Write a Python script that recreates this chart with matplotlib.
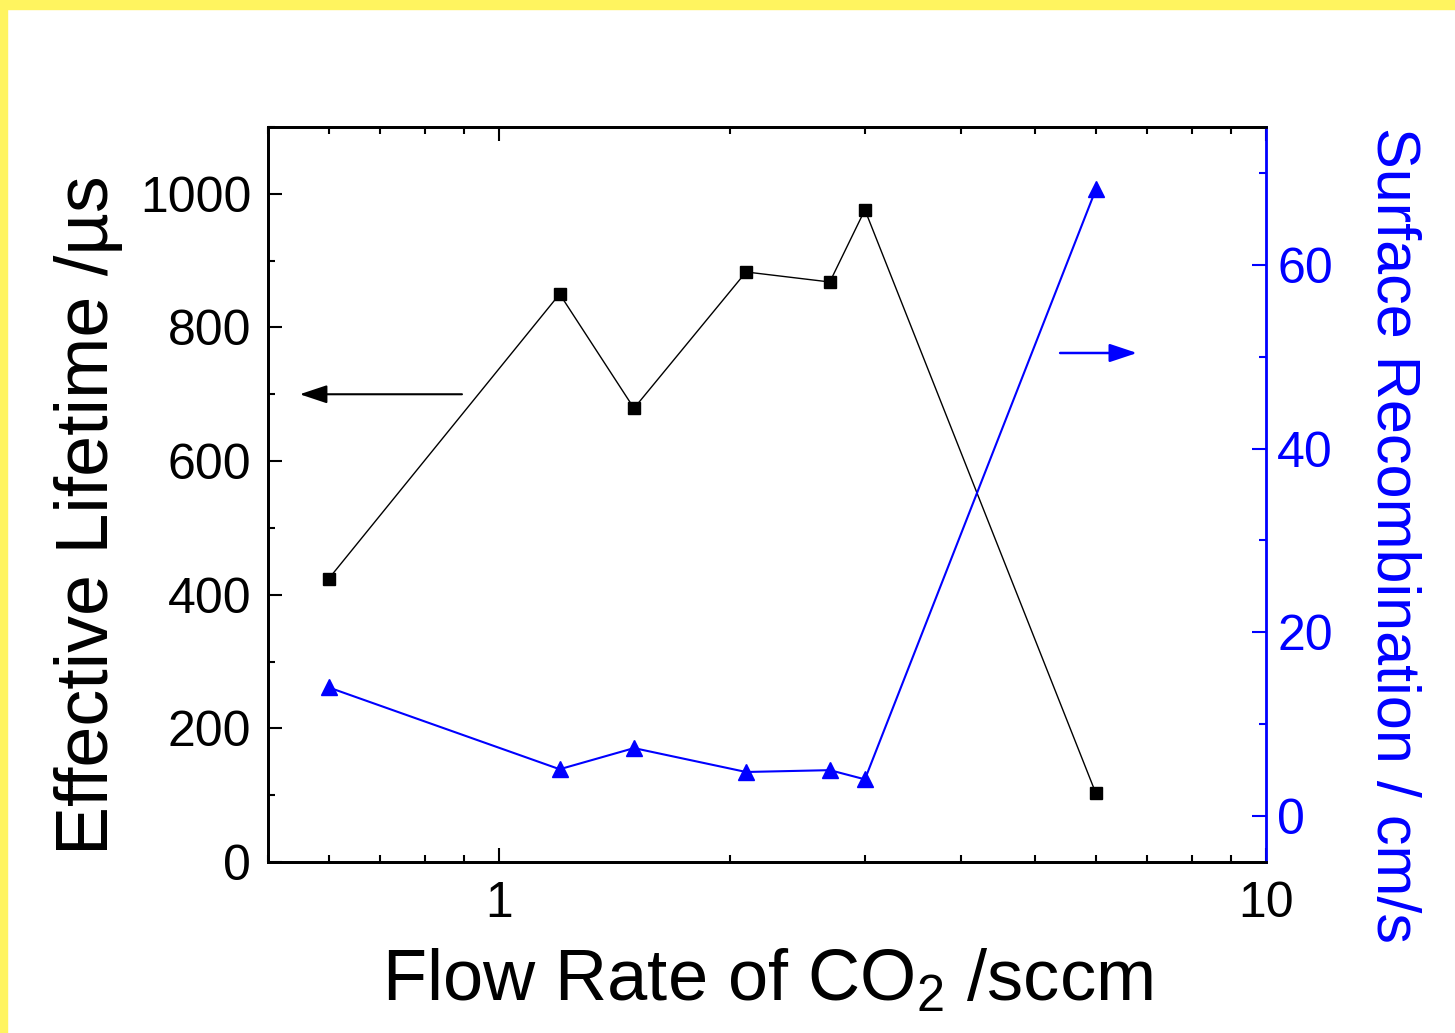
import matplotlib
matplotlib.use("Agg")
import matplotlib.pyplot as plt
from matplotlib.patches import Rectangle
from matplotlib.ticker import LogLocator, NullFormatter, MultipleLocator, FixedLocator

plt.rcParams["font.family"] = ["Liberation Sans", "DejaVu Sans"]
plt.rcParams["mathtext.fontset"] = "custom"
plt.rcParams["mathtext.rm"] = "Liberation Sans"
plt.rcParams["mathtext.it"] = "Liberation Sans"

# data
flow = [0.6, 1.2, 1.5, 2.1, 2.7, 3.0, 6.0]
lifetime = [424, 850, 679, 883, 868, 976, 103]
srv = [14.0, 5.1, 7.4, 4.8, 5.0, 4.0, 68.2]

BLUE = "#0000ff"

fig = plt.figure(figsize=(14.55, 10.33), dpi=100)
ax = fig.add_axes([0.1842, 0.1655, 0.6859, 0.7116])
ax2 = ax.twinx()

ax.plot(flow, lifetime, color="black", lw=1.0, marker="s", ms=9, zorder=3)
ax2.plot(flow, srv, color=BLUE, lw=1.5, marker="^", ms=11, zorder=3)

ax.set_xscale("log")
ax.set_xlim(0.5, 10)
ax.set_ylim(0, 1100)
ax2.set_ylim(-5, 75)

ax.xaxis.set_major_locator(FixedLocator([1, 10]))
ax.xaxis.set_minor_locator(LogLocator(base=10, subs=range(2, 10)))
ax.xaxis.set_minor_formatter(NullFormatter())
ax.set_xticklabels(["1", "10"])
ax.yaxis.set_major_locator(MultipleLocator(200))
ax.yaxis.set_minor_locator(MultipleLocator(100))
ax2.yaxis.set_major_locator(MultipleLocator(20))
ax2.yaxis.set_minor_locator(MultipleLocator(10))
ax2.set_yticks([0, 20, 40, 60])

ax.tick_params(axis="both", which="both", direction="in", width=1.5,
               labelsize=36, colors="black")
ax.tick_params(axis="x", which="both", top=True, pad=14)
ax.tick_params(which="major", length=10)
ax.tick_params(which="minor", length=5)
ax.tick_params(axis="y", right=False, pad=12)
ax2.tick_params(axis="y", which="both", direction="in", width=1.5,
                labelsize=36, colors=BLUE, pad=8)
ax2.tick_params(which="major", length=10)
ax2.tick_params(which="minor", length=5)

for s in ["left", "bottom", "top"]:
    ax.spines[s].set_linewidth(2)
    ax2.spines[s].set_linewidth(2)
ax2.spines["right"].set_color(BLUE)
ax2.spines["right"].set_linewidth(2)
ax.spines["right"].set_visible(False)

ax.set_xlabel("Flow Rate of CO$_2$ /sccm", fontsize=52, labelpad=15)
ax.set_ylabel("Effective Lifetime /µs", fontsize=53)
ax.yaxis.set_label_coords(-0.145, 0.472)
ax2.set_ylabel("Surface Recombination / cm/s", fontsize=44, color=BLUE,
               rotation=270, va="bottom")
ax2.yaxis.set_label_coords(1.098, 0.445)

arrow = "-|>,head_length=0.6,head_width=0.2"
ax.annotate("", xy=(0.55, 700), xytext=(0.895, 700),
            arrowprops=dict(arrowstyle=arrow, color="black", lw=1.5,
                            mutation_scale=28, shrinkA=0, shrinkB=0))
ax2.annotate("", xy=(6.79, 50.4), xytext=(5.39, 50.4),
             arrowprops=dict(arrowstyle=arrow, color=BLUE, lw=1.8,
                             mutation_scale=28, shrinkA=0, shrinkB=0))

# yellow slide frame
fig.patches.append(Rectangle((0, 1 - 9 / 1033), 1, 9 / 1033, transform=fig.transFigure,
                             color="#fff45f", zorder=0))
fig.patches.append(Rectangle((0, 0), 7 / 1455, 1, transform=fig.transFigure,
                             color="#fff45f", zorder=0))

fig.savefig("out.png", dpi=100)
